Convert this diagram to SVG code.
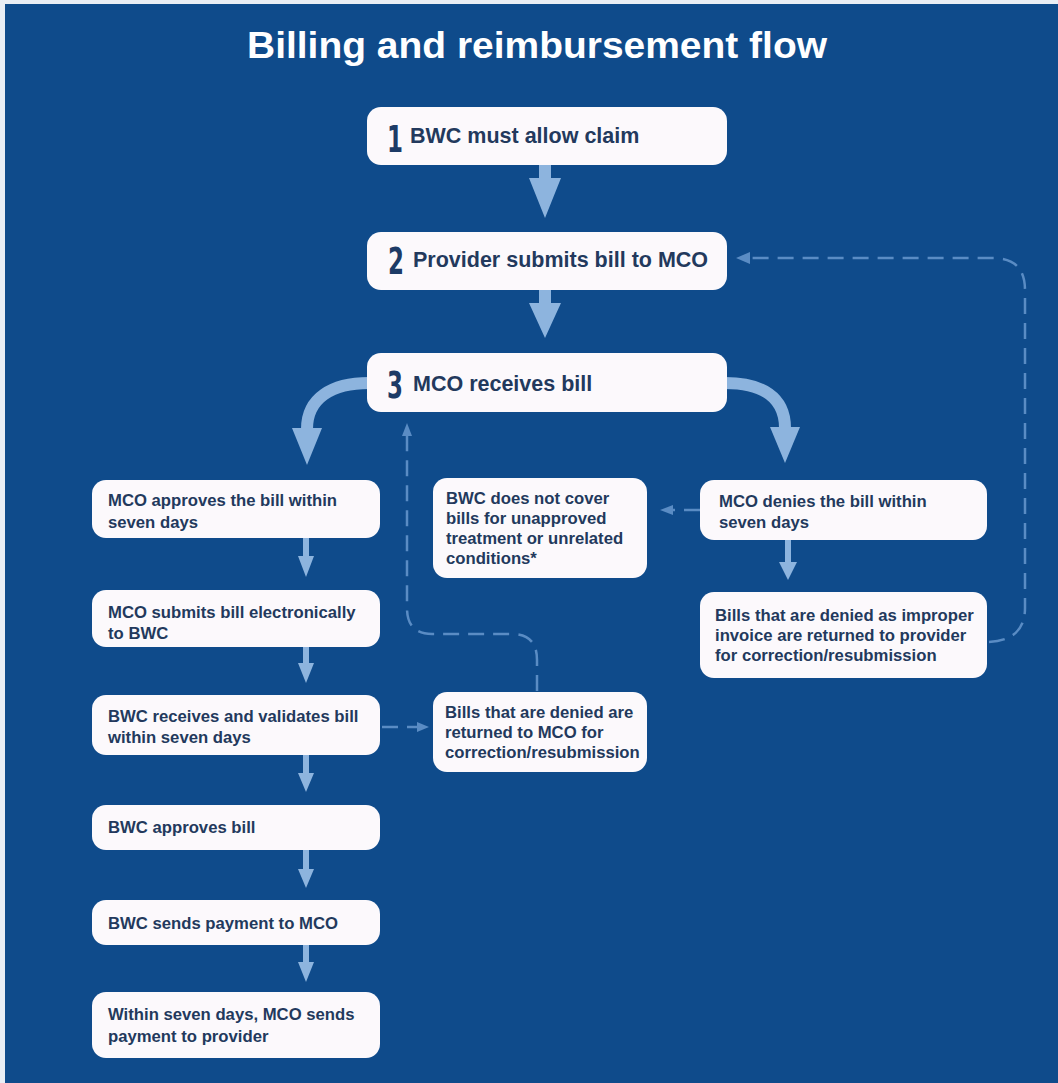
<svg xmlns="http://www.w3.org/2000/svg" width="1058" height="1083" viewBox="0 0 1058 1083">
<style>
  .bg { fill: #0f4b8b; }
  .box { fill: #fcf9fc; }
  .t { font-family: "Liberation Sans", Arial, sans-serif; font-weight: bold; font-size: 16.7px; fill: #23395d; }
  .tb { font-family: "Liberation Sans", Arial, sans-serif; font-weight: bold; font-size: 21.5px; fill: #23395d; }
  .num { font-family: "DejaVu Sans", "Liberation Sans", sans-serif; font-weight: bold; font-size: 37px; fill: #1d3b66; }
  .title { font-family: "Liberation Sans", Arial, sans-serif; font-weight: bold; font-size: 37px; fill: #ffffff; }
  .solid { fill: #8db4de; }
  .curve { fill: none; stroke: #8db4de; stroke-width: 12; }
  .dash { fill: none; stroke: #5a8cc4; stroke-width: 2.5; stroke-dasharray: 16 9; }
  .dhead { fill: #5a8cc4; }
</style>
<rect x="0" y="0" width="1058" height="1083" fill="#e9eef5"/>
<rect class="bg" x="5" y="4" width="1053" height="1079"/>
<text class="title" x="537" y="58" text-anchor="middle" textLength="580" lengthAdjust="spacingAndGlyphs">Billing and reimbursement flow</text>

<g id="connectors">
  <!-- 1 -> 2 -->
  <polygon class="solid" points="539,165 551,165 551,178 561,178 545,218 529,178 539,178"/>
  <!-- 2 -> 3 -->
  <polygon class="solid" points="539,290 551,290 551,303 561,303 545,338 529,303 539,303"/>
  <!-- 3 -> approve (curved left) -->
  <path class="curve" d="M 369 383 C 332 383 307 398 307 429"/>
  <polygon class="solid" points="292,428 322,428 307,465"/>
  <!-- 3 -> deny (curved right) -->
  <path class="curve" d="M 725 383 C 762 383 785 397 785 428"/>
  <polygon class="solid" points="770,427 800,427 785,463"/>
  <!-- left column small arrows -->
  <polygon class="solid" points="303,538 309,538 309,556 314,556 306,577 298,556 303,556"/>
  <polygon class="solid" points="303,647 309,647 309,663 314,663 306,683 298,663 303,663"/>
  <polygon class="solid" points="303,755 309,755 309,773 314,773 306,792 298,773 303,773"/>
  <polygon class="solid" points="303,850 309,850 309,869 314,869 306,888 298,869 303,869"/>
  <polygon class="solid" points="303,945 309,945 309,962 314,962 306,982 298,962 303,962"/>
  <!-- deny -> improper invoice -->
  <polygon class="solid" points="785,540 791,540 791,562 797,562 788,580 779,562 785,562"/>
  <!-- improper invoice -> provider (dashed feedback) -->
  <path class="dash" d="M 989 642 Q 1025 640 1025 608 V 290 Q 1025 258 993 258 H 748"/>
  <polygon class="dhead" points="736,258 750,252 750,264"/>
  <!-- deny -> not covered -->
  <path class="dash" d="M 700 510 H 672"/>
  <polygon class="dhead" points="660,510 673,505 673,515"/>
  <!-- validates -> denied returned to MCO -->
  <path class="dash" d="M 382 727 H 418"/>
  <polygon class="dhead" points="429,727 417,722 417,732"/>
  <!-- denied returned -> MCO receives (dashed up) -->
  <path class="dash" d="M 537 691 V 660 Q 537 634 512 634 H 432 Q 407 634 407 608 V 436"/>
  <polygon class="dhead" points="407,423 402,436 412,436"/>
</g>

<g id="step1">
  <rect class="box" x="367" y="107" width="360" height="58" rx="14"/>
  <text class="num" transform="translate(403,152) scale(0.62,1)" text-anchor="end">1</text>
  <text class="tb" x="410" y="143">BWC must allow claim</text>
</g>
<g id="step2">
  <rect class="box" x="367" y="232" width="360" height="58" rx="14"/>
  <text class="num" transform="translate(404,274) scale(0.62,1)" text-anchor="end">2</text>
  <text class="tb" x="413" y="267">Provider submits bill to MCO</text>
</g>
<g id="step3">
  <rect class="box" x="367" y="353" width="360" height="59" rx="14"/>
  <text class="num" transform="translate(403,398) scale(0.62,1)" text-anchor="end">3</text>
  <text class="tb" x="413" y="391">MCO receives bill</text>
</g>

<g id="approve">
  <rect class="box" x="92" y="480" width="288" height="58" rx="14"/>
  <text class="t" x="108" y="506">MCO approves the bill within</text>
  <text class="t" x="108" y="528">seven days</text>
</g>
<g id="submit">
  <rect class="box" x="92" y="590" width="288" height="57" rx="14"/>
  <text class="t" x="108" y="618">MCO submits bill electronically</text>
  <text class="t" x="108" y="639">to BWC</text>
</g>
<g id="validate">
  <rect class="box" x="92" y="695" width="288" height="60" rx="14"/>
  <text class="t" x="108" y="722">BWC receives and validates bill</text>
  <text class="t" x="108" y="743">within seven days</text>
</g>
<g id="bwcapprove">
  <rect class="box" x="92" y="805" width="288" height="45" rx="14"/>
  <text class="t" x="108" y="833">BWC approves bill</text>
</g>
<g id="bwcpay">
  <rect class="box" x="92" y="900" width="288" height="45" rx="14"/>
  <text class="t" x="108" y="929">BWC sends payment to MCO</text>
</g>
<g id="mcopay">
  <rect class="box" x="92" y="992" width="288" height="66" rx="14"/>
  <text class="t" x="108" y="1020">Within seven days, MCO sends</text>
  <text class="t" x="108" y="1042">payment to provider</text>
</g>

<g id="notcovered">
  <rect class="box" x="433" y="478" width="214" height="100" rx="14"/>
  <text class="t" x="446" y="504">BWC does not cover</text>
  <text class="t" x="446" y="524">bills for unapproved</text>
  <text class="t" x="446" y="544">treatment or unrelated</text>
  <text class="t" x="446" y="564">conditions*</text>
</g>
<g id="returnedmco">
  <rect class="box" x="433" y="692" width="214" height="80" rx="14"/>
  <text class="t" x="445" y="718">Bills that are denied are</text>
  <text class="t" x="445" y="738">returned to MCO for</text>
  <text class="t" x="445" y="758">correction/resubmission</text>
</g>

<g id="deny">
  <rect class="box" x="700" y="480" width="287" height="60" rx="14"/>
  <text class="t" x="719" y="507">MCO denies the bill within</text>
  <text class="t" x="719" y="528">seven days</text>
</g>
<g id="improper">
  <rect class="box" x="700" y="592" width="287" height="86" rx="14"/>
  <text class="t" x="715" y="621">Bills that are denied as improper</text>
  <text class="t" x="715" y="641">invoice are returned to provider</text>
  <text class="t" x="715" y="661">for correction/resubmission</text>
</g>
</svg>
